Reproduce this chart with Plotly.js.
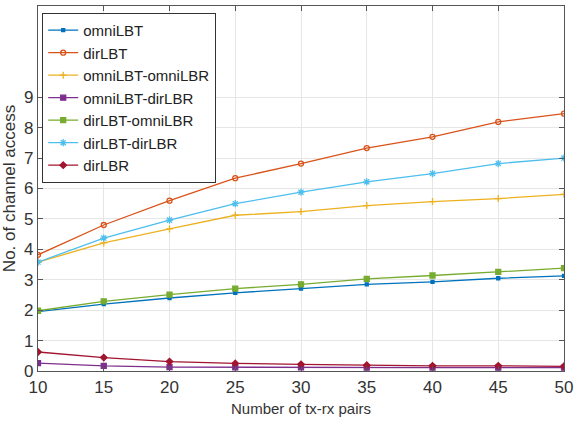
<!DOCTYPE html>
<html><head><meta charset="utf-8">
<script src="https://cdn.plot.ly/plotly-3.0.1.min.js"></script>
<style>body{margin:0;background:#fff}#c{width:574px;height:427px}</style>
</head><body><div id="c"></div>
<script>
const pairs = [10,15,20,25,30,35,40,45,50];
const omniLBT = [1.95,2.20,2.40,2.57,2.71,2.85,2.93,3.05,3.13];
const dirLBT = [3.82,4.80,5.60,6.34,6.82,7.33,7.70,8.19,8.46];
const omniLBT_omniLBR = [3.58,4.21,4.67,5.12,5.24,5.44,5.57,5.67,5.81];
const omniLBT_dirLBR = [0.26,0.17,0.13,0.12,0.12,0.11,0.11,0.11,0.11];
const dirLBT_omniLBR = [1.98,2.29,2.51,2.71,2.85,3.03,3.14,3.26,3.38];
const dirLBT_dirLBR = [3.58,4.37,4.96,5.50,5.88,6.22,6.49,6.82,7.00];
const dirLBR = [0.625,0.44,0.31,0.25,0.22,0.19,0.17,0.17,0.155];
const yTicks = [0,1,2,3,4,5,6,7,8,9];
const xTicks = [10,15,20,25,30,35,40,45,50];

const series = [
  ['omniLBT', omniLBT, '#0072BD', 'square', 3],
  ['dirLBT', dirLBT, '#D95319', 'circle-open', 5],
  ['omniLBT-omniLBR', omniLBT_omniLBR, '#EDB120', 'cross-thin-open', 5],
  ['omniLBT-dirLBR', omniLBT_dirLBR, '#7E2F8E', 'square', 5],
  ['dirLBT-omniLBR', dirLBT_omniLBR, '#77AC30', 'square', 5],
  ['dirLBT-dirLBR', dirLBT_dirLBR, '#4DBEEE', 'asterisk-open', 6],
  ['dirLBR', dirLBR, '#A2142F', 'diamond', 5]
];
const traces = series.map(s => ({
  x: pairs, y: s[1], name: s[0], type: 'scatter', mode: 'lines+markers',
  line: {color: s[2], width: 1.3},
  marker: {color: s[2], symbol: s[3], size: s[4], line: {color: s[2], width: 1.3}}
}));
const font = 'Liberation Sans, Arial, sans-serif';
const layout = {
  width: 574, height: 427,
  margin: {l: 38, r: 10, t: 6, b: 56},
  paper_bgcolor: '#fff', plot_bgcolor: '#fff',
  showlegend: true,
  font: {family: font, color: '#262626', size: 16},
  xaxis: {
    range: [10, 50], tickvals: xTicks, ticktext: xTicks.map(String),
    showgrid: true, gridcolor: '#e6e6e6', zeroline: false,
    showline: true, linecolor: '#555', linewidth: 1.2, mirror: 'ticks',
    ticks: 'inside', ticklen: 5, tickcolor: '#555',
    ticklabeloverflow: 'allow',
    tickfont: {family: font, size: 17, color: '#333'},
    title: {text: 'Number of tx-rx pairs', font: {family: font, size: 15, color: '#333'}, standoff: 8}
  },
  yaxis: {
    range: [0, 12], tickvals: yTicks, ticktext: yTicks.map(String),
    showgrid: true, gridcolor: '#e6e6e6', zeroline: false,
    showline: true, linecolor: '#555', linewidth: 1.2, mirror: 'ticks',
    ticks: 'inside', ticklen: 5, tickcolor: '#555',
    ticklabeloverflow: 'allow',
    tickfont: {family: font, size: 17, color: '#333'},
    title: {text: 'No. of channel access', font: {family: font, size: 17, color: '#333'}, standoff: 6}
  },
  legend: {
    x: 0.008, y: 0.981, xanchor: 'left', yanchor: 'top',
    bgcolor: '#fff', bordercolor: '#333', borderwidth: 1,
    font: {family: font, size: 15, color: '#222'},
    tracegroupgap: 0, itemwidth: 30
  }
};
Plotly.newPlot('c', traces, layout, {displayModeBar: false, staticPlot: true});
</script></body></html>
